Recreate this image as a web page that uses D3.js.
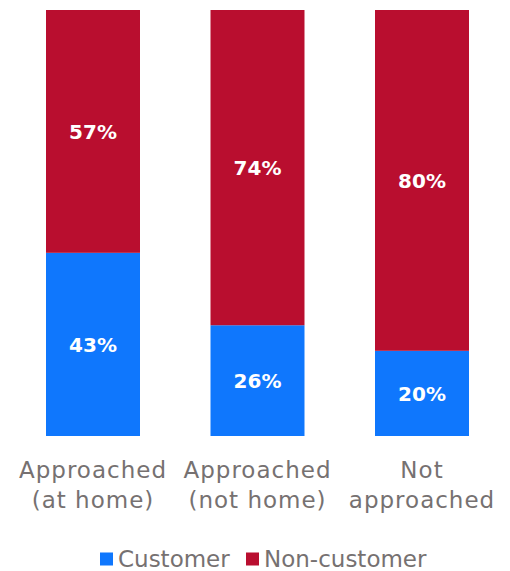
<!DOCTYPE html>
<html>
<head>
<meta charset="utf-8">
<script src="https://cdn.jsdelivr.net/npm/d3@7"></script>
<style>
  html, body { margin: 0; padding: 0; background: #fff; }
  svg { display: block; }
</style>
</head>
<body>
<svg id="chart" width="510" height="571"></svg>
<script>
// Share of customers vs non-customers by approach group
const categories = [["Approached", "(at home)"], ["Approached", "(not home)"], ["Not", "approached"]];
const customer = [43, 26, 20];
const nonCustomer = [57, 74, 80];
const seriesNames = ["Customer", "Non-customer"];
const colors = ["#0F77FD", "#B90E2F"];

const svg = d3.select("#chart");
const fontFamily = "'DejaVu Sans', sans-serif";

const keys = categories.map((c, i) => i);
const x = d3.scaleBand().domain(keys).range([10.75, 504.25])
  .paddingInner(0.4286).paddingOuter(0.2143);
const y = d3.scaleLinear().domain([0, 100]).range([436, 10]);

const rows = keys.map(i => ({ i, Customer: customer[i], "Non-customer": nonCustomer[i] }));
const stacked = d3.stack().keys(seriesNames)(rows);

const layers = svg.append("g").selectAll("g").data(stacked).join("g")
  .attr("fill", (d, k) => colors[k]);

layers.selectAll("rect").data(d => d).join("rect")
  .attr("x", d => x(d.data.i))
  .attr("width", x.bandwidth())
  .attr("y", d => y(d[1]))
  .attr("height", d => y(d[0]) - y(d[1]));

layers.selectAll("text").data(d => d).join("text")
  .attr("x", d => x(d.data.i) + x.bandwidth() / 2)
  .attr("y", d => (y(d[0]) + y(d[1])) / 2)
  .attr("dy", "0.36em")
  .attr("text-anchor", "middle")
  .attr("fill", "#fff")
  .attr("font-family", fontFamily)
  .attr("font-weight", "bold")
  .attr("font-size", 20)
  .text(d => (d[1] - d[0]) + "%");

// Category labels (two lines each)
const axis = svg.append("g").attr("transform", "translate(0,436)")
  .call(d3.axisBottom(x).tickSize(0).tickFormat(""));
axis.select(".domain").remove();
axis.selectAll(".tick").each(function(i) {
  const t = d3.select(this).append("text")
    .attr("text-anchor", "middle")
    .attr("fill", "#767171")
    .attr("font-family", fontFamily)
    .attr("font-size", 23)
    .attr("letter-spacing", 1);
  categories[i].forEach((line, j) => {
    t.append("tspan").attr("x", 0).attr("y", 42 + j * 30).text(line);
  });
});

// Legend
const legend = svg.append("g").attr("transform", "translate(0,559)");
const legendX = [100, 246];
seriesNames.forEach((name, k) => {
  legend.append("rect")
    .attr("x", legendX[k]).attr("y", -6.5)
    .attr("width", 13).attr("height", 13)
    .attr("fill", colors[k]);
  legend.append("text")
    .attr("x", legendX[k] + 18).attr("y", 0)
    .attr("dy", "0.36em")
    .attr("fill", "#767171")
    .attr("font-family", fontFamily)
    .attr("font-size", 23)
    .text(name);
});
</script>
</body>
</html>
